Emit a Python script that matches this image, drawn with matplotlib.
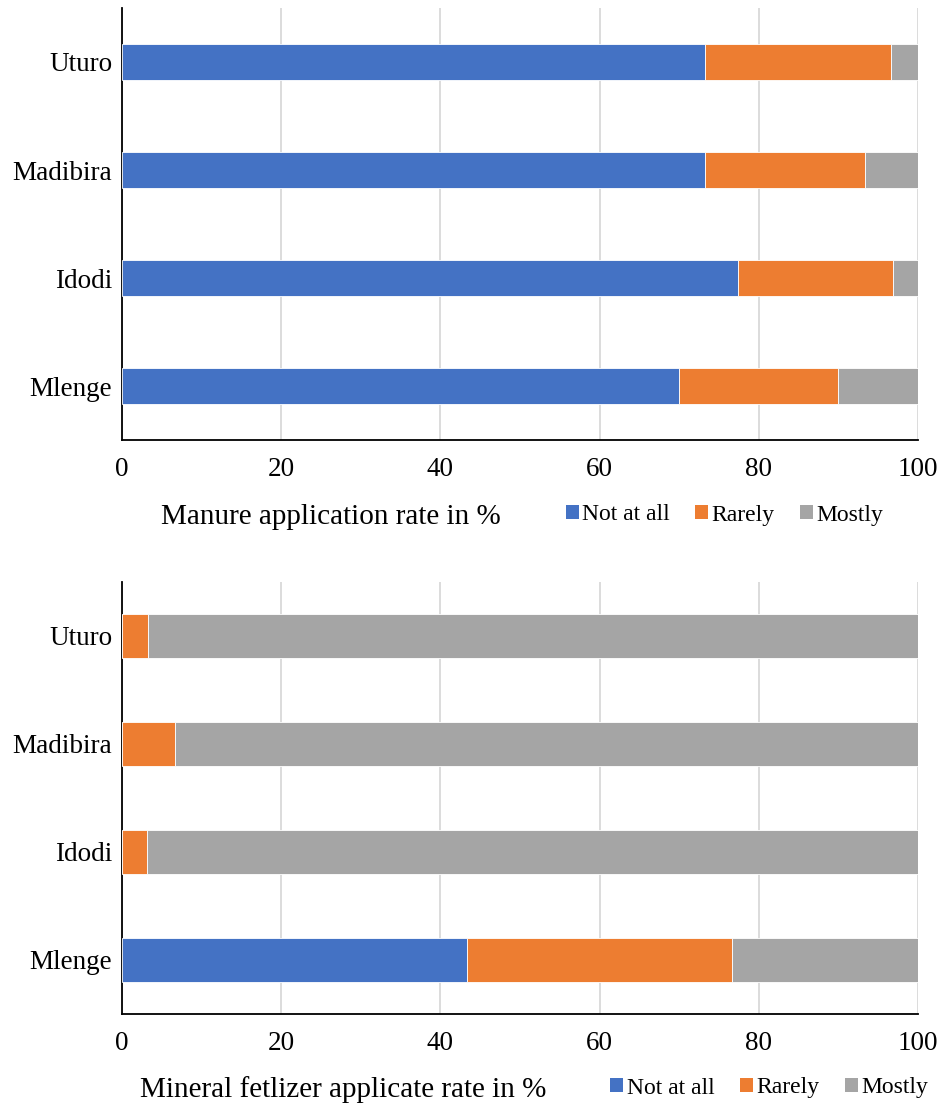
import matplotlib
matplotlib.use("Agg")
import matplotlib.pyplot as plt
from matplotlib.patches import Patch

plt.rcParams['font.family'] = ['Liberation Serif', 'DejaVu Serif']

sites = ["Mlenge", "Idodi", "Madibira", "Uturo"]
series = ["Not at all", "Rarely", "Mostly"]
colors = ["#4472C4", "#ED7D31", "#A5A5A5"]

manure_not = [70.0, 77.4, 73.3, 73.3]
manure_rare = [20.0, 19.4, 20.0, 23.3]
manure_most = [10.0, 3.2, 6.7, 3.4]

mineral_not = [43.3, 0.0, 0.0, 0.0]
mineral_rare = [33.3, 3.2, 6.7, 3.3]
mineral_most = [23.4, 96.8, 93.3, 96.7]

xticks = [0, 20, 40, 60, 80, 100]

fig = plt.figure(figsize=(9.38, 11.09), dpi=100)
ax1 = fig.add_axes([0.130, 0.6032, 0.8487, 0.3896])
ax2 = fig.add_axes([0.130, 0.0857, 0.8487, 0.3895])


def draw(ax, data, height):
    left = [0.0] * len(sites)
    for vals, c in zip(data, colors):
        ax.barh(range(len(sites)), vals, left=left, height=height, color=c,
                edgecolor='white', linewidth=0.6, zorder=3)
        left = [l + v for l, v in zip(left, vals)]
    ax.set_xlim(0, 100)
    ax.set_ylim(-0.5, 3.5)
    ax.set_yticks(range(len(sites)))
    ax.set_yticklabels(sites, fontsize=19.5)
    ax.set_xticks(xticks)
    ax.set_xticklabels([str(t) for t in xticks], fontsize=19.5)
    ax.tick_params(axis='both', length=0)
    ax.tick_params(axis='x', pad=12)
    ax.tick_params(axis='y', pad=7)
    ax.grid(axis='x', color='#D9D9D9', linewidth=1.3, zorder=0)
    for s in ['top', 'right']:
        ax.spines[s].set_visible(False)
    ax.spines['left'].set_color('black')
    ax.spines['bottom'].set_color('black')
    ax.spines['left'].set_linewidth(1.3)
    ax.spines['bottom'].set_linewidth(1.3)


draw(ax1, [manure_not, manure_rare, manure_most], 0.34)
draw(ax2, [mineral_not, mineral_rare, mineral_most], 0.40)

handles = [Patch(facecolor=c, edgecolor='none') for c in colors]

fig.text(331 / 938, 1 - 517 / 1109, "Manure application rate in %", fontsize=21,
         ha='center', va='center')
fig.legend(handles, series, loc='center', bbox_to_anchor=(724.5 / 938, 1 - 515 / 1109),
           ncol=3, frameon=False, fontsize=17, handlelength=0.55, handleheight=0.55,
           handletextpad=0.15, columnspacing=1.07)

fig.text(343 / 938, 1 - 1090 / 1109, "Mineral fetlizer applicate rate in %", fontsize=21,
         ha='center', va='center')
fig.legend(handles, series, loc='center', bbox_to_anchor=(769 / 938, 1 - 1088 / 1109),
           ncol=3, frameon=False, fontsize=17, handlelength=0.55, handleheight=0.55,
           handletextpad=0.15, columnspacing=1.07)

fig.savefig("out.png", dpi=100, facecolor='white')
